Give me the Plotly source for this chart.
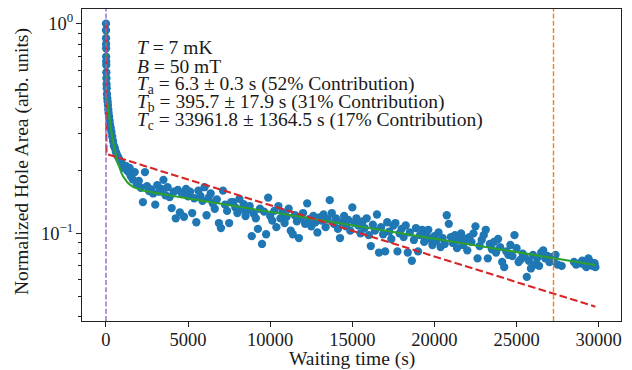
import plotly.graph_objects as go
import math

# ---------------- data ----------------
early_t = [0, 2, 4, 6, 8, 11, 14, 17, 22, 27, 35, 45, 60, 80, 100, 120, 140, 160, 190, 220,
           250, 290, 330, 380, 430, 480, 540, 600, 660, 730, 800, 880, 960, 1040, 1120, 1200,
           1280, 1380, 1440]
early_y = [1.0, 0.93, 0.852, 0.80, 0.763, 0.696, 0.66, 0.635, 0.585, 0.549, 0.515, 0.492, 0.462,
           0.441, 0.425, 0.409, 0.39, 0.375, 0.36, 0.345, 0.33, 0.318, 0.305, 0.29, 0.275, 0.262,
           0.255, 0.245, 0.238, 0.232, 0.226, 0.22, 0.215, 0.21, 0.205, 0.21, 0.2, 0.196, 0.205]

cloud_t = [1500, 1625, 1750, 1875, 2000, 2125, 2250, 2375, 2500, 2625, 2750, 2875, 3000, 3125,
           3250, 3375, 3500, 3625, 3750, 3875, 4000, 4125, 4250, 4375, 4500, 4625, 4750, 4875,
           5000, 5125, 5250, 5375, 5500, 5625, 5750, 5875, 6000, 6125, 6250, 6375, 6500, 6625,
           6750, 6875, 7000, 7125, 7250, 7375, 7500, 7625, 7750, 7875, 8000, 8125, 8250, 8375,
           8500, 8625, 8750, 8875, 9000, 9125, 9250, 9375, 9500, 9625, 9750, 9875, 10000, 10125,
           10250, 10375, 10500, 10625, 10750, 10875, 11000, 11125, 11250, 11375, 11500, 11625,
           11750, 11875, 12000, 12125, 12250, 12375, 12500, 12625, 12750, 12875, 13000, 13125,
           13250, 13375, 13500, 13625, 13750, 13875, 14000, 14125, 14250, 14375, 14500, 14625,
           14750, 14875, 15000, 15125, 15250, 15375, 15500, 15625, 15750, 15875, 16000, 16125,
           16250, 16375, 16500, 16625, 16750, 16875, 17000, 17125, 17250, 17375, 17500, 17625,
           17750, 17875, 18000, 18125, 18250, 18375, 18500, 18625, 18750, 18875, 19000, 19125,
           19250, 19375, 19500, 19625, 19750, 19875, 20000, 20125, 20250, 20375, 20500, 20625,
           20750, 20875, 21000, 21125, 21250, 21375, 21500, 21625, 21750, 21875, 22000, 22125,
           22250, 22375, 22500, 22625, 22750, 22875, 23000, 23125, 23250, 23375, 23500, 23625,
           23750, 23875, 24000, 24125, 24250, 24375, 24500, 24625, 24750, 24875, 25000, 25125,
           25250, 25375, 25500, 25625, 25750, 25875, 26000, 26125, 26250, 26375, 26500, 26625,
           26750, 26875, 27000, 27125, 27250, 27375, 27500, 27750, 28500, 28625, 28875, 29000,
           29125, 29250, 29375, 29500, 29625, 29750, 29800]
cloud_y = [0.188, 0.181, 0.196, 0.172, 0.178, 0.165, 0.141, 0.196, 0.168, 0.159, 0.162, 0.155,
           0.137, 0.170, 0.158, 0.163, 0.180, 0.152, 0.166, 0.149, 0.132, 0.158, 0.118, 0.161,
           0.126, 0.155, 0.120, 0.163, 0.150, 0.158, 0.125, 0.147, 0.113, 0.160, 0.151, 0.143,
           0.166, 0.122, 0.148, 0.155, 0.139, 0.131, 0.145, 0.112, 0.106, 0.160, 0.137, 0.128,
           0.112, 0.141, 0.141, 0.133, 0.125, 0.146, 0.130, 0.138, 0.121, 0.129, 0.135, 0.097,
           0.124, 0.118, 0.105, 0.131, 0.089, 0.127, 0.099, 0.148, 0.121, 0.115, 0.128, 0.107,
           0.135, 0.118, 0.126, 0.112, 0.120, 0.131, 0.103, 0.099, 0.122, 0.114, 0.095, 0.118,
           0.125, 0.111, 0.139, 0.117, 0.108, 0.121, 0.113, 0.101, 0.119, 0.115, 0.123, 0.107,
           0.117, 0.144, 0.125, 0.111, 0.118, 0.105, 0.095, 0.113, 0.121, 0.108, 0.116, 0.103,
           0.133, 0.112, 0.118, 0.109, 0.100, 0.114, 0.106, 0.118, 0.098, 0.087, 0.110, 0.103,
           0.123, 0.081, 0.107, 0.099, 0.082, 0.113, 0.102, 0.094, 0.109, 0.112, 0.082, 0.100,
           0.105, 0.096, 0.109, 0.081, 0.101, 0.074, 0.093, 0.106, 0.082, 0.098, 0.104, 0.091,
           0.099, 0.104, 0.094, 0.088, 0.097, 0.092, 0.101, 0.086, 0.095, 0.089, 0.122, 0.111,
           0.096, 0.090, 0.098, 0.085, 0.093, 0.100, 0.088, 0.094, 0.083, 0.096, 0.091, 0.100,
           0.108, 0.076, 0.087, 0.093, 0.098, 0.104, 0.076, 0.089, 0.084, 0.091, 0.081, 0.094,
           0.086, 0.073, 0.069, 0.082, 0.079, 0.088, 0.078, 0.098, 0.085, 0.073, 0.075, 0.080,
           0.077, 0.062, 0.074, 0.068, 0.079, 0.071, 0.076, 0.070, 0.081, 0.083, 0.076, 0.078,
           0.073, 0.077, 0.074, 0.079, 0.071, 0.070, 0.073, 0.071, 0.072, 0.074, 0.071, 0.069,
           0.076, 0.073, 0.070, 0.072, 0.069]

# fit parameters (from the annotation)
fit_amps = [0.52, 0.31, 0.17]
fit_taus = [6.3, 395.7, 33961.8]

# single-exponential reference (red dashed)
ref_t = [0, 30, 29800]
ref_y = [1.0, 0.239, 0.0447]

vline_start = 0
vline_cut = 27250

labels = [
    "<i>T</i> = 7 mK",
    "<i>B</i> = 50 mT",
    "<i>T</i><sub>a</sub> = 6.3 ± 0.3 s (52% Contribution)",
    "<i>T</i><sub>b</sub> = 395.7 ± 17.9 s (31% Contribution)",
    "<i>T</i><sub>c</sub> = 33961.8 ± 1364.5 s (17% Contribution)",
]
# vertical pixel centres (from top of figure) of each text line
label_px = [47, 66, 85, 103, 121]

x_ticks = [0, 5000, 10000, 15000, 20000, 25000, 30000]
x_ticktext = ["0", "5000", "10000", "15000", "20000", "25000", "30000"]
y_ticks = [0.1, 1.0]
y_ticktext = ["10<sup>−1</sup>", "10<sup>0</sup>"]
y_minor = [0.04, 0.05, 0.06, 0.07, 0.08, 0.09, 0.2, 0.3, 0.4, 0.5, 0.6, 0.7, 0.8, 0.9]

x_title = "Waiting time (s)"
y_title = "Normalized Hole Area (arb. units)"

# ---------------- figure ----------------
W, H = 632, 370
ML, MR, MT, MB = 82, 11, 9, 49
PH = H - MT - MB
PW = W - ML - MR

all_t = early_t + cloud_t
all_y = early_y + cloud_y
fit_y = [sum(a * math.exp(-t / tau) for a, tau in zip(fit_amps, fit_taus)) for t in all_t]

FONT = "Liberation Serif"
TXT = "#1a1a1a"
fig = go.Figure()
fig.add_trace(go.Scatter(x=all_t, y=all_y, mode="markers",
                         marker=dict(color="#1f77b4", size=8.3, line=dict(width=0)),
                         showlegend=False))
fig.add_trace(go.Scatter(x=all_t, y=fit_y, mode="lines",
                         line=dict(color="#2ca02c", width=2.1), showlegend=False))
fig.add_trace(go.Scatter(x=ref_t, y=ref_y, mode="lines",
                         line=dict(color="#d62728", width=2.1, dash="7.7px,3.3px"),
                         showlegend=False))

fig.add_vline(x=vline_start, line=dict(color="#9467bd", width=1.4, dash="5px,2.2px"))
fig.add_vline(x=vline_cut, line=dict(color="#ff7f0e", width=1.4, dash="5px,2.2px"))

for txt, py in zip(labels, label_px):
    fig.add_annotation(text=txt, x=(135 - ML) / PW, y=(H - MB - py) / PH,
                       xref="paper", yref="paper",
                       xanchor="left", yanchor="middle", showarrow=False,
                       font=dict(family=FONT, size=19.5, color=TXT))

# axis titles
fig.add_annotation(text=x_title, x=0.5, y=(H - MB - 359) / PH, xref="paper", yref="paper",
                   xanchor="center", yanchor="middle", showarrow=False,
                   font=dict(family=FONT, size=19.5, color=TXT))
fig.add_annotation(text=y_title, x=(22 - ML) / PW, y=(H - MB - 162) / PH,
                   xref="paper", yref="paper", textangle=-90,
                   xanchor="center", yanchor="middle", showarrow=False,
                   font=dict(family=FONT, size=19.5, color=TXT))

fig.update_layout(
    width=W, height=H,
    margin=dict(l=ML, r=MR, t=MT, b=MB),
    paper_bgcolor="white", plot_bgcolor="white",
    font=dict(family=FONT, size=18, color=TXT),
)
fig.update_xaxes(range=[-1460, 31360], tickvals=x_ticks, ticktext=x_ticktext,
                 ticks="outside", ticklen=5, ticklabelstandoff=-3,
                 tickwidth=1.1, tickcolor="#222", showline=True, linecolor="#222",
                 linewidth=1.1, mirror=True, showgrid=False, zeroline=False,
                 automargin=False, tickfont=dict(size=18.5))
fig.update_yaxes(type="log", range=[-1.418, 0.070], tickvals=y_ticks, ticktext=y_ticktext,
                 ticks="outside", ticklen=5, tickwidth=1.1, tickcolor="#222",
                 ticklabelstandoff=-1,
                 minor=dict(tickvals=y_minor, ticks="outside", ticklen=2.8, tickwidth=0.9,
                            tickcolor="#222"),
                 showline=True, linecolor="#222", linewidth=1.1, mirror=True,
                 showgrid=False, zeroline=False, automargin=False,
                 tickfont=dict(size=18.5))

fig.write_html("out.html", config={"displayModeBar": False},
               post_script="document.body.style.margin='0px';"
                           "document.body.style.overflow='hidden';")
